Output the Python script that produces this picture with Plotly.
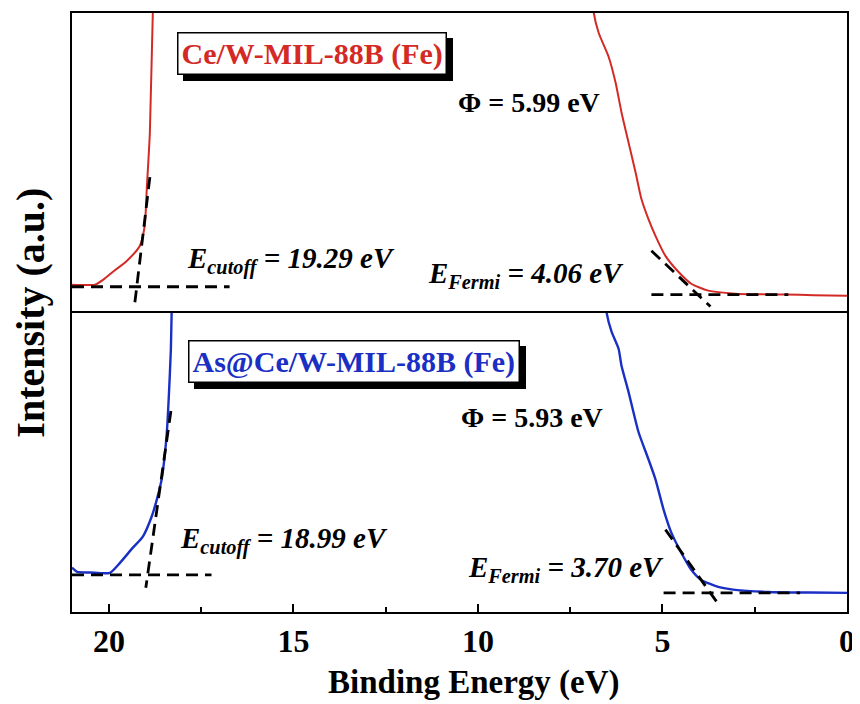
import plotly.graph_objects as go
from plotly.subplots import make_subplots

# ---------------- data ----------------
# Ce/W-MIL-88B (Fe)  (top panel, red)
red_be = [21.0, 20.38, 20.15, 19.89, 19.51, 19.16, 19.03, 18.97, 18.89, 18.81, 18.7,
          7.0, 6.86, 6.73, 6.46, 6.27, 6.11, 5.92, 5.73, 5.57, 5.38, 5.19, 4.92,
          4.57, 4.22, 3.76, 3.03, 2.3, 1.68, 0.9, 0.0]
red_int = [0.093, 0.093, 0.11, 0.136, 0.173, 0.223, 0.289, 0.422, 0.601, 1.0, 1.3,
           1.3, 1.0, 0.934, 0.854, 0.767, 0.668, 0.568, 0.468, 0.379, 0.312, 0.256, 0.189,
           0.136, 0.096, 0.073, 0.063, 0.061, 0.060, 0.058, 0.056]

# As@Ce/W-MIL-88B (Fe)  (bottom panel, blue)
blue_be = [21.0, 20.86, 20.5, 19.97, 19.70, 19.35, 19.08, 18.84, 18.70, 18.57, 18.49,
           18.43, 18.38, 18.32, 18.30, 18.2,
           6.7, 6.51, 6.38, 6.19, 6.11, 5.92, 5.65, 5.38, 5.19, 4.97, 4.76, 4.49,
           4.22, 3.95, 3.49, 3.03, 2.14, 1.0, 0.0]
blue_int = [0.148, 0.134, 0.132, 0.131, 0.164, 0.215, 0.252, 0.319, 0.376, 0.443, 0.520,
            0.601, 0.711, 0.879, 1.0, 1.3,
            1.3, 0.997, 0.936, 0.879, 0.822, 0.735, 0.601, 0.510, 0.443, 0.342, 0.265, 0.198,
            0.141, 0.107, 0.084, 0.074, 0.067, 0.065, 0.064]

# tangent / baseline construction lines (endpoints, eV and intensity)
red_cut_base_x = [21.0, 16.73]
red_cut_base_y = [0.086, 0.086]
red_cut_tan_x = [18.89, 19.30]
red_cut_tan_y = [0.452, 0.030]
red_fermi_base_x = [5.30, 1.59]
red_fermi_base_y = [0.060, 0.060]
red_fermi_tan_x = [5.30, 3.70]
red_fermi_tan_y = [0.206, 0.020]

blue_cut_base_x = [21.0, 17.22]
blue_cut_base_y = [0.124, 0.124]
blue_cut_tan_x = [18.32, 19.0]
blue_cut_tan_y = [0.671, 0.081]
blue_fermi_base_x = [4.97, 1.27]
blue_fermi_base_y = [0.064, 0.064]
blue_fermi_tan_x = [4.92, 3.49]
blue_fermi_tan_y = [0.275, 0.027]

sample_names = ["Ce/W-MIL-88B (Fe)", "As@Ce/W-MIL-88B (Fe)"]
phi_labels = ["Φ = 5.99 eV", "Φ = 5.93 eV"]
cutoff_labels = ["19.29 eV", "18.99 eV"]
fermi_labels = ["4.06 eV", "3.70 eV"]
x_ticks = [20, 15, 10, 5, 0]

# ---------------- figure ----------------
FONT = "Liberation Serif"
RED = "#d42a26"
BLUE = "#1a2fc4"

fig = make_subplots(rows=2, cols=1, shared_xaxes=True, vertical_spacing=0)

fig.add_trace(go.Scatter(x=red_be, y=red_int, mode="lines",
                         line=dict(color=RED, width=2, shape="spline", smoothing=0.6),
                         showlegend=False), row=1, col=1)
fig.add_trace(go.Scatter(x=blue_be, y=blue_int, mode="lines",
                         line=dict(color=BLUE, width=2.4, shape="spline", smoothing=0.6),
                         showlegend=False), row=2, col=1)

dash = dict(color="black", width=2.8, dash="12px,7px")
for (xs, ys, r) in [
    (red_cut_base_x, red_cut_base_y, 1), (red_cut_tan_x, red_cut_tan_y, 1),
    (red_fermi_base_x, red_fermi_base_y, 1), (red_fermi_tan_x, red_fermi_tan_y, 1),
    (blue_cut_base_x, blue_cut_base_y, 2), (blue_cut_tan_x, blue_cut_tan_y, 2),
    (blue_fermi_base_x, blue_fermi_base_y, 2), (blue_fermi_tan_x, blue_fermi_tan_y, 2),
]:
    fig.add_trace(go.Scatter(x=xs, y=ys, mode="lines", line=dash, showlegend=False),
                  row=r, col=1)

axis_common = dict(showline=True, linecolor="black", linewidth=2,
                   showgrid=False, zeroline=False)
fig.update_xaxes(range=[21, 0], **axis_common)
# top panel: only its top frame line
fig.update_xaxes(ticks="", showticklabels=False, side="top", mirror=False, row=1, col=1)
fig.update_xaxes(mirror=True, ticks="inside", ticklen=8, tickwidth=2, tickcolor="black",
                 tickvals=x_ticks, ticktext=[f"<b>{v}</b>" for v in x_ticks],
                 tickfont=dict(family=FONT, size=32, color="black"),
                 minor=dict(ticks="inside", ticklen=5, tickwidth=2, tickcolor="black",
                            tickvals=[17.5, 12.5, 7.5, 2.5]),
                 row=2, col=1)
fig.update_yaxes(range=[0, 1], showticklabels=False, ticks="", mirror=True, **axis_common)

annotations = []
panels = [("x", "y", RED, 14.49, 0.865, 8.62, 0.701, 17.95, 0.173, 11.41, 0.126),
          ("x2", "y2", BLUE, 13.36, 0.837, 8.53, 0.651, 18.14, 0.238, 10.32, 0.144)]
for i, (xr, yr, col, lx, ly, px, py, cx, cy, fx, fy) in enumerate(panels):
    name = f"<b>{sample_names[i]}</b>"
    # shadow
    annotations.append(dict(x=lx, y=ly, xref=xr, yref=yr, text=name, showarrow=False,
                            font=dict(family=FONT, size=30, color="black"),
                            bgcolor="black", bordercolor="black", borderwidth=1.5,
                            borderpad=3, xshift=6, yshift=-6))
    annotations.append(dict(x=lx, y=ly, xref=xr, yref=yr, text=name, showarrow=False,
                            font=dict(family=FONT, size=30, color=col),
                            bgcolor="white", bordercolor="black", borderwidth=1.5,
                            borderpad=3))
    annotations.append(dict(x=px, y=py, xref=xr, yref=yr, text=f"<b>{phi_labels[i]}</b>",
                            showarrow=False, font=dict(family=FONT, size=28, color="black")))
    annotations.append(dict(x=cx, y=cy, xref=xr, yref=yr, xanchor="left",
                            text=f"<b><i>E<sub>cutoff</sub> = {cutoff_labels[i]}</i></b>",
                            showarrow=False, font=dict(family=FONT, size=29, color="black")))
    annotations.append(dict(x=fx, y=fy, xref=xr, yref=yr, xanchor="left",
                            text=f"<b><i>E<sub>Fermi</sub> = {fermi_labels[i]}</i></b>",
                            showarrow=False, font=dict(family=FONT, size=29, color="black")))

annotations.append(dict(x=0.519, y=-0.118, xref="paper", yref="paper", showarrow=False,
                        text="<b>Binding Energy (eV)</b>", xanchor="center", yanchor="middle",
                        font=dict(family=FONT, size=33, color="black")))
annotations.append(dict(x=-0.054, y=0.5, xref="paper", yref="paper", showarrow=False,
                        text="<b>Intensity (a.u.)</b>", textangle=-90,
                        xanchor="center", yanchor="middle",
                        font=dict(family=FONT, size=40, color="black")))

# page body adds an 8px margin, so the figure is 8px smaller than the window
fig.update_layout(width=852, height=696, margin=dict(l=64, r=10, t=5, b=92),
                  paper_bgcolor="white", plot_bgcolor="white",
                  annotations=annotations, showlegend=False)

fig.write_html("out.html")
